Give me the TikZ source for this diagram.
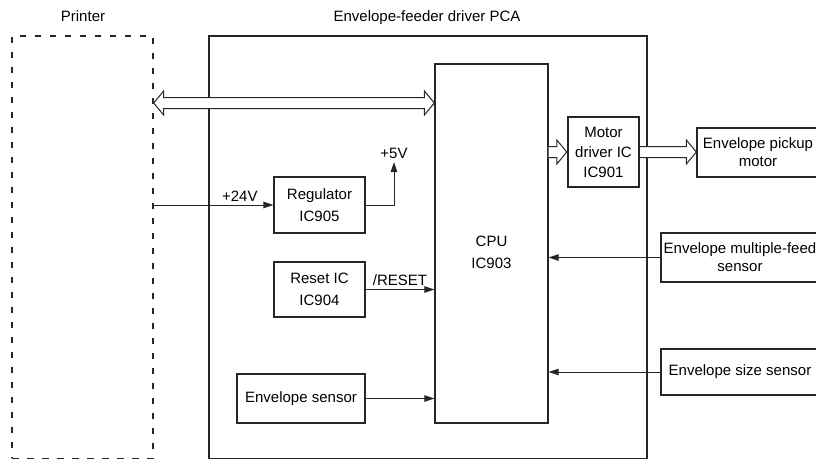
\documentclass[tikz,border=0pt]{standalone}
\usepackage{fontspec}
\setmainfont{Liberation Sans}
\usetikzlibrary{arrows.meta,calc}

\begin{document}
\begin{tikzpicture}[x=1pt, y=-1pt, font=\fontsize{15}{22}\selectfont,
  blk/.style={draw=black!85, line width=1.3pt, align=center, inner sep=0pt},
  rtxt/.style={font=\fontsize{15}{18}\selectfont},
  sig/.style={draw=black!85, line width=1pt, -{Triangle[length=10pt,width=6.5pt]}},
  hollow/.style={draw=black!85, fill=white, line width=1pt, to path={
    let \p1=(\tikztostart), \p2=(\tikztotarget) in
    (\x1,\y1+5.5pt) -- (\x2-10pt,\y1+5.5pt) -- (\x2-10pt,\y1+12pt) -- (\x2,\y1)
    -- (\x2-10pt,\y1-12pt) -- (\x2-10pt,\y1-5.5pt) -- (\x1,\y1-5.5pt)}},
  busarrow/.style={draw=black!85, fill=white, line width=1pt, to path={
    let \p1=(\tikztostart), \p2=(\tikztotarget) in
    (\x1,\y1) -- (\x1+10pt,\y1+12pt) -- (\x1+10pt,\y1+5.5pt) -- (\x2-10pt,\y1+5.5pt)
    -- (\x2-10pt,\y1+12pt) -- (\x2,\y1) -- (\x2-10pt,\y1-12pt) -- (\x2-10pt,\y1-5.5pt)
    -- (\x1+10pt,\y1-5.5pt) -- (\x1+10pt,\y1-12pt) -- cycle}}]
  \useasboundingbox (0,0) rectangle (816,458);

  % outer boxes (cut off at the bottom)
  \node (printer) [blk, dash pattern=on 6.5pt off 8.5pt, minimum width=141pt, minimum height=422.4pt] at (82.5,247.2) {};
  \node (pca) [blk, minimum width=438pt, minimum height=422.4pt] at (428,247.2) {};
  \node (ptitle) [anchor=base] at (83,21.5) {Printer};
  \node (pcatitle) [anchor=base] at (427,21.5) {Envelope-feeder driver PCA};

  \node (cpu) [blk, minimum width=113pt, minimum height=359pt] at (491.5,243.5) {};
  \node (cputxt) [align=center] at ([yshift=-9pt]cpu.center) {CPU\\IC903};
  \node (mdrv) [blk, line width=2.4pt, font=\fontsize{15}{20}\selectfont, minimum width=71pt, minimum height=70pt] at (603.5,152) {Motor\\driver IC\\IC901};
  \node (pickup) [blk, rtxt, minimum width=122pt, minimum height=49pt] at (758,152.5) {Envelope pickup\\motor};
  \node (reg) [blk, minimum width=91pt, minimum height=56pt] at (319.5,205) {Regulator\\IC905};
  \node (reset) [blk, minimum width=91pt, minimum height=55pt] at (319.5,289.5) {Reset IC\\IC904};
  \node (envsens) [blk, minimum width=128pt, minimum height=49pt] at (301,398.5) {Envelope sensor};
  \node (multi) [blk, rtxt, minimum width=158pt, minimum height=49pt] at (740,257.5) {Envelope multiple-feed\\sensor};
  \node (size) [blk, minimum width=158pt, minimum height=46pt] at (740,372) {Envelope size sensor};

  % wide arrows
  \coordinate (bus) at (0,103);
  \draw[busarrow] (printer.east |- bus) to (cpu.west |- bus);
  \draw[hollow] (cpu.east |- mdrv.west) to (mdrv.west);
  \draw[hollow] (mdrv.east) to (pickup.west |- mdrv.east);

  % signal lines
  \coordinate (v5) at (394,162);
  \draw[sig] (printer.east |- reg.west) -- (reg.west) node[pos=0.72, above] {+24V};
  \draw[sig] (reg.east) -| (v5) node[above] {+5V};
  \draw[sig] (reset.east) -- (reset.east -| cpu.west) node[midway, above] {/RESET};
  \draw[sig] (envsens.east) -- (envsens.east -| cpu.west);
  \draw[sig] (multi.west) -- (multi.west -| cpu.east);
  \draw[sig] (size.west) -- (size.west -| cpu.east);
\end{tikzpicture}
\end{document}
